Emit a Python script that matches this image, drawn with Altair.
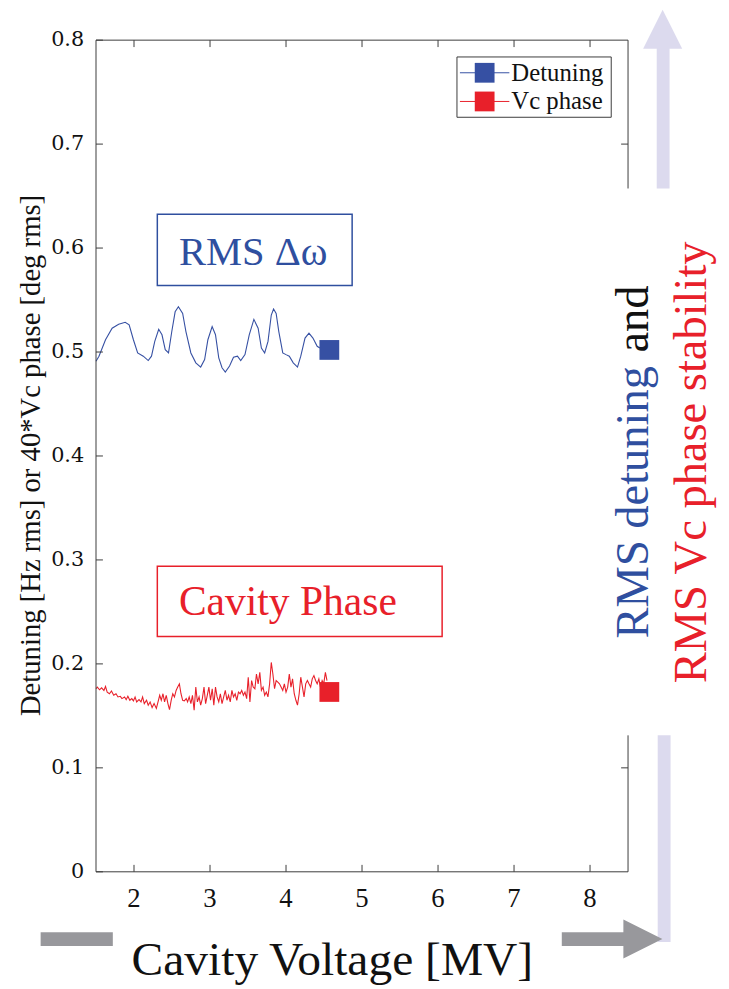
import altair as alt
import pandas as pd

# ---------------- data ----------------
det_v = [1.500, 1.539, 1.625, 1.712, 1.798, 1.884, 1.936, 1.992, 2.048, 2.122,
         2.187, 2.230, 2.273, 2.325, 2.368, 2.411, 2.454, 2.497, 2.541, 2.584,
         2.640, 2.683, 2.748, 2.813, 2.877, 2.929, 2.972, 3.028, 3.072, 3.115,
         3.158, 3.201, 3.257, 3.309, 3.361, 3.404, 3.460, 3.516, 3.577, 3.633,
         3.676, 3.719, 3.763, 3.806, 3.836, 3.870, 3.905, 3.957, 4.000, 4.043,
         4.095, 4.151, 4.194, 4.250, 4.302, 4.354, 4.410, 4.445]
det_y = [0.4912, 0.4960, 0.5118, 0.5229, 0.5267, 0.5286, 0.5261, 0.5118, 0.4991, 0.4960,
         0.4918, 0.4960, 0.5102, 0.5219, 0.5166, 0.5023, 0.4991, 0.5197, 0.5387, 0.5435,
         0.5371, 0.5197, 0.4991, 0.4896, 0.4855, 0.4928, 0.5118, 0.5245, 0.5166, 0.4944,
         0.4849, 0.4808, 0.4865, 0.4950, 0.4960, 0.4918, 0.4975, 0.5166, 0.5314, 0.5229,
         0.5039, 0.4991, 0.5102, 0.5356, 0.5413, 0.5371, 0.5197, 0.4991, 0.4975, 0.4960,
         0.4896, 0.4855, 0.4960, 0.5134, 0.5181, 0.5134, 0.5055, 0.5039]

ph_v = [1.500, 1.517, 1.547, 1.573, 1.604, 1.625, 1.647, 1.677, 1.703, 1.733,
        1.763, 1.789, 1.820, 1.841, 1.876, 1.897, 1.919, 1.945, 1.971, 1.992,
        2.014, 2.035, 2.066, 2.092, 2.113, 2.135, 2.165, 2.187, 2.212, 2.238,
        2.264, 2.294, 2.316, 2.338, 2.359, 2.381, 2.402, 2.424, 2.446, 2.467,
        2.489, 2.510, 2.532, 2.554, 2.575, 2.597, 2.618, 2.640, 2.662, 2.687,
        2.705, 2.726, 2.748, 2.769, 2.791, 2.813, 2.834, 2.856, 2.877, 2.899,
        2.921, 2.942, 2.964, 2.985, 3.007, 3.029, 3.050, 3.072, 3.093, 3.115,
        3.136, 3.158, 3.180, 3.201, 3.223, 3.244, 3.266, 3.288, 3.309, 3.331,
        3.352, 3.374, 3.396, 3.417, 3.439, 3.460, 3.482, 3.503, 3.525, 3.547,
        3.568, 3.590, 3.611, 3.633, 3.655, 3.676, 3.698, 3.719, 3.741, 3.762,
        3.784, 3.806, 3.827, 3.849, 3.870, 3.892, 3.914, 3.935, 3.957, 3.978,
        4.000, 4.022, 4.043, 4.065, 4.086, 4.108, 4.130, 4.151, 4.173, 4.194,
        4.216, 4.237, 4.259, 4.281, 4.302, 4.324, 4.345, 4.367, 4.389, 4.410,
        4.432, 4.453, 4.475, 4.496, 4.518, 4.539]
ph_y = [0.1761, 0.1777, 0.1751, 0.1770, 0.1745, 0.1783, 0.1729, 0.1713, 0.1739, 0.1698,
        0.1713, 0.1682, 0.1688, 0.1666, 0.1682, 0.1656, 0.1688, 0.1650, 0.1666, 0.1644,
        0.1682, 0.1634, 0.1656, 0.1634, 0.1682, 0.1618, 0.1650, 0.1603, 0.1634, 0.1580,
        0.1618, 0.1571, 0.1634, 0.1698, 0.1650, 0.1713, 0.1634, 0.1698, 0.1618, 0.1561,
        0.1650, 0.1713, 0.1682, 0.1745, 0.1777, 0.1808, 0.1713, 0.1650, 0.1644, 0.1666,
        0.1634, 0.1682, 0.1618, 0.1698, 0.1555, 0.1777, 0.1634, 0.1682, 0.1603, 0.1666,
        0.1777, 0.1618, 0.1698, 0.1777, 0.1650, 0.1761, 0.1603, 0.1777, 0.1682, 0.1634,
        0.1713, 0.1618, 0.1682, 0.1745, 0.1650, 0.1698, 0.1634, 0.1745, 0.1682, 0.1713,
        0.1650, 0.1729, 0.1713, 0.1745, 0.1698, 0.1729, 0.1666, 0.1872, 0.1634, 0.1840,
        0.1777, 0.1761, 0.1903, 0.1808, 0.1919, 0.1745, 0.1777, 0.1698, 0.1729, 0.1682,
        0.1808, 0.2014, 0.1903, 0.1761, 0.1840, 0.1824, 0.1808, 0.1777, 0.1745, 0.1808,
        0.1729, 0.1777, 0.1903, 0.1777, 0.1856, 0.1713, 0.1650, 0.1603, 0.1713, 0.1872,
        0.1777, 0.1682, 0.1808, 0.1840, 0.1808, 0.1777, 0.1856, 0.1888, 0.1840, 0.1808,
        0.1856, 0.1777, 0.1840, 0.1808, 0.1919, 0.1840]

series_names = ["Detuning", "Vc phase"]
series_colors = ["#3650a3", "#e8202a"]
marker_v = [4.57, 4.57]
marker_y = [0.502, 0.173]

x_ticks = [2, 3, 4, 5, 6, 7, 8]
x_tick_labels = ["2", "3", "4", "5", "6", "7", "8"]
y_ticks = [0, 0.1, 0.2, 0.3, 0.4, 0.5, 0.6, 0.7, 0.8]
y_tick_labels = ["0", "0.1", "0.2", "0.3", "0.4", "0.5", "0.6", "0.7", "0.8"]
y_ticks_right = [0.1, 0.7]

x_title = "Cavity Voltage [MV]"
y_title = "Detuning [Hz rms] or 40*Vc phase [deg rms]"

# ---------------- layout ----------------
W, H = 538, 841
SERIF = "Liberation Serif"
FRAME = "#3c3c3c"
INK = "#111111"
BLUE_TXT = "#2f4f9f"
RED_TXT = "#e8202a"
LAV = "#dcdaee"
GRAY = "#98989c"

xs = alt.Scale(domain=[1.5, 8.5], nice=False, zero=False)
ys = alt.Scale(domain=[0, 0.8], nice=False, zero=False)
cs = alt.Scale(domain=series_names, range=series_colors)

line_df = pd.concat([
    pd.DataFrame({"v": det_v, "val": det_y, "series": series_names[0]}),
    pd.DataFrame({"v": ph_v, "val": ph_y, "series": series_names[1]}),
])
marker_df = pd.DataFrame({"v": marker_v, "val": marker_y, "series": series_names})

lines = alt.Chart(line_df).mark_line(strokeWidth=1.1).encode(
    x=alt.X("v:Q", scale=xs, axis=None),
    y=alt.Y("val:Q", scale=ys, axis=None),
    color=alt.Color("series:N", scale=cs, legend=None),
)
markers = alt.Chart(marker_df).mark_square(size=400, opacity=1).encode(
    x=alt.X("v:Q", scale=xs, axis=None),
    y=alt.Y("val:Q", scale=ys, axis=None),
    color=alt.Color("series:N", scale=cs, legend=None),
)

xt = pd.DataFrame({"t": x_ticks, "lab": x_tick_labels})
yt = pd.DataFrame({"t": y_ticks, "lab": y_tick_labels})
ytr = pd.DataFrame({"t": y_ticks_right})
tick_bottom = alt.Chart(xt).mark_rule(color=FRAME).encode(
    x=alt.X("t:Q", scale=xs, axis=None), y=alt.value(H), y2=alt.value(H - 7))
tick_top = alt.Chart(xt).mark_rule(color=FRAME).encode(
    x=alt.X("t:Q", scale=xs, axis=None), y=alt.value(0), y2=alt.value(7))
tick_left = alt.Chart(yt).mark_rule(color=FRAME).encode(
    y=alt.Y("t:Q", scale=ys, axis=None), x=alt.value(0), x2=alt.value(7))
tick_right = alt.Chart(ytr).mark_rule(color=FRAME).encode(
    y=alt.Y("t:Q", scale=ys, axis=None), x=alt.value(W), x2=alt.value(W - 7))
x_labels = alt.Chart(xt).mark_text(font=SERIF, fontSize=27, color=INK, baseline="top").encode(
    x=alt.X("t:Q", scale=xs, axis=None), y=alt.value(H + 15), text="lab:N")
y_labels = alt.Chart(yt).mark_text(font="DejaVu Serif", fontSize=21, color=INK,
                                   baseline="middle", align="right").encode(
    y=alt.Y("t:Q", scale=ys, axis=None), x=alt.value(-12), text="lab:N")

one = pd.DataFrame({"k": [0]})


def rule(x1, x2, y1, y2, color=FRAME, sw=1):
    return alt.Chart(one).mark_rule(color=color, strokeWidth=sw).encode(
        x=alt.value(x1), x2=alt.value(x2), y=alt.value(y1), y2=alt.value(y2))


def rect(x1, x2, y1, y2, fill=None, stroke=None, sw=1.0):
    kw = {}
    if fill is not None:
        kw["fill"] = fill
    else:
        kw["fillOpacity"] = 0
    if stroke is not None:
        kw["stroke"] = stroke
        kw["strokeWidth"] = sw
    return alt.Chart(one).mark_rect(**kw).encode(
        x=alt.value(x1), x2=alt.value(x2), y=alt.value(y1), y2=alt.value(y2))


def text(t, x, y, size, color=INK, angle=0, align="center", baseline="alphabetic", font=SERIF):
    kw = dict(text=t, font=font, fontSize=size, color=color, align=align, baseline=baseline)
    if angle:
        kw["angle"] = angle
    return alt.Chart(one).mark_text(**kw).encode(x=alt.value(x), y=alt.value(y))


def tri(x, y, shape, size, color):
    return alt.Chart(one).mark_point(shape=shape, size=size, filled=True, opacity=1,
                                     color=color, strokeWidth=0).encode(
        x=alt.value(x), y=alt.value(y))


# frame (right side interrupted where the annotation sits)
frame = [
    rule(0, W, 0, 0), rule(0, W, H, H), rule(0, 0, 0, H),
    rule(W, W, 0, 150), rule(W, W, 703, H),
]

# legend
legend = [rect(365, 521, 17, 78, stroke=FRAME, sw=1)]
for i, (name, col) in enumerate(zip(series_names, series_colors)):
    cy = 33 + i * 29
    legend.append(rule(368, 418, cy, cy, color=col, sw=1))
    legend.append(alt.Chart(one).mark_square(size=400, opacity=1, color=col).encode(
        x=alt.value(393), y=alt.value(cy)))
    legend.append(text(name, 420, cy + 8, 25, align="left"))

# annotation boxes
boxes = [
    rect(62, 259, 176, 248, stroke=BLUE_TXT, sw=1.5),
    text("RMS Δω", 159, 227, 41, color=BLUE_TXT),
    rect(62, 350, 532, 603, stroke=RED_TXT, sw=1.5),
    text("Cavity Phase", 194, 581, 42, color=RED_TXT),
]

# arrows
arrows = [
    rect(567, 580, 8, 150, fill=LAV),
    tri(573, -11, "M0,-1L1,1L-1,1Z", 1560, LAV),
    rect(568, 581, 703, 912, fill=LAV),
    rect(-56, 17, 902, 916, fill=GRAY),
    rect(471, 537, 902, 916, fill=GRAY),
    tri(553, 909, "M-1,-1L1,0L-1,1Z", 1560, GRAY),
]

# titles / side text
titles = [
    text(x_title, 239, 945, 48),
    text(y_title, -57, 420, 29, angle=270),
    text("RMS detuning", 558, 605, 47, color=BLUE_TXT, angle=270, align="left"),
    text("and", 558, 248, 47, color=INK, angle=270, align="right"),
    text("RMS Vc phase stability", 617, 427, 47, color=RED_TXT, angle=270),
]

chart = alt.layer(
    lines, markers, tick_bottom, tick_top, tick_left, tick_right, x_labels, y_labels,
    *frame, *legend, *boxes, *arrows, *titles,
).properties(
    width=W, height=H,
    autosize=alt.AutoSizeParams(type="none"),
    padding={"left": 89, "top": 27, "right": 94, "bottom": 113},
    background="white",
).configure_view(stroke=None)

chart.save("out.html", embed_options={"renderer": "svg", "actions": False})
